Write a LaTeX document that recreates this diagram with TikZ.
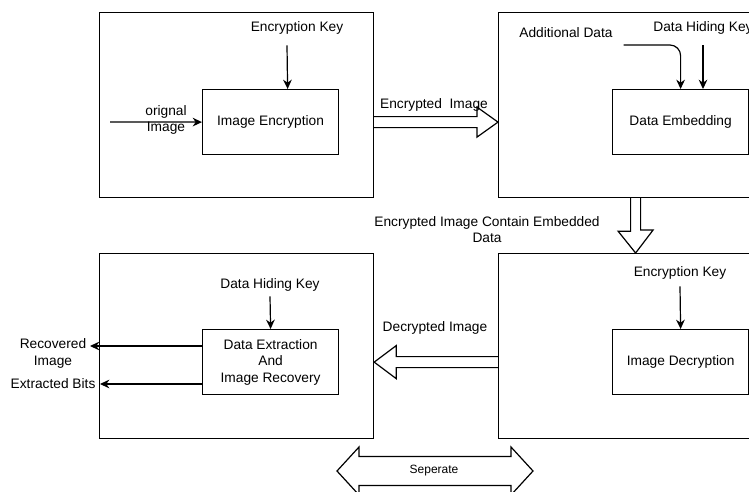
\documentclass[tikz,border=0pt]{standalone}
\usepackage{fontspec}
\setmainfont{Liberation Sans}
\usetikzlibrary{arrows.meta,positioning,calc}

\begin{document}
\begin{tikzpicture}[x=0.75pt,y=-0.75pt,font=\fontsize{10.3}{12.4}\selectfont,line width=0.9pt]
	\tikzset{stage/.style={draw,minimum width=205.5pt,minimum height=138.75pt,inner sep=0pt,anchor=north west},
		block/.style={draw,minimum width=102pt,minimum height=48.75pt,inner sep=0pt,align=center,anchor=north west},
		hollow/.style={draw,line width=0.9pt},
		>={Stealth[length=7pt,width=6.5pt]}}
	\clip (0,0) rectangle (749,492);
	% the four stages
	\node[stage] (encstage) at (99,12) {};
	\node[stage] (embstage) at (498,12) {};
	\node[stage] (decstage) at (498,253) {};
	\node[stage] (extstage) at (99,253) {};
	\node[block] (enc) at (202,89) {Image Encryption};
	\node[block] (emb) at (612,89) {Data Embedding};
	\node[block] (dec) at (612,329) {Image Decryption};
	\node[block] (dext) at (202,329) {Data Extraction\\And\\Image Recovery};
	% labels
	\node (key1) at (297,28) {Encryption Key};
	\node (adddata) at (566,33) {Additional Data};
	\node (hidekey1) at (703,28) {Data Hiding Key};
	\node (key2) at (680,273) {Encryption Key};
	\node (hidekey2) at (270,285) {Data Hiding Key};
	\node[align=center] (orig) at (166,120) {orignal\\Image};
	\node (encimg) at (434,105) {Encrypted\ \ Image};
	\node[align=center] (contain) at (487,229.5) {Encrypted Image Contain Embedded\\Data};
	\node (decimg) at (435,328) {Decrypted Image};
	\node[align=center] (rec) at (53,353.5) {Recovered\\Image};
	\node[anchor=east,inner sep=3pt] (bits) at (100,384) {Extracted Bits};
	\coordinate (src) at (110,122);
	\coordinate (recout) at (90,346);
	% thin arrows
	\draw[->] (src) -- (enc.west);
	\draw[->] ([shift={(-10,6)}]key1.south) -- ([shift={(17,0)}]enc.north);
	\draw[->,rounded corners=8] ([shift={(6,12)}]adddata.east) -| (emb.north);
	\draw[->] ([shift={(0,6)}]hidekey1.south) -- (hidekey1 |- emb.north);
	\draw[->] ([shift={(0,2)}]key2.south) -- (dec.north);
	\draw[->] (hidekey2.south) -- (dext.north);
	\draw[->] (dext.west |- recout) -- (recout);
	\draw[->] (dext.west |- bits) -- (bits.east);
	% block arrows
	\draw[hollow] ($(encstage.east |- enc)+(0,-5.5)$) -- ($(embstage.west |- enc)+(-21,-5.5)$) -- ++(0,-9.5)
		-- (embstage.west |- enc) -- ++(-21,15) -- ++(0,-9.5) -- ($(encstage.east |- enc)+(0,5.5)$);
	\draw[hollow] ($(embstage.south)+(-5,0)$) -- ++(0,33) -- ++(-12.5,0) -- (decstage.north)
		-- ++(17.5,-23) -- ++(-12.5,0) -- ($(embstage.south)+(5,0)$);
	\draw[hollow] ($(decstage.west |- dec)+(0,-5.5)$) -- ($(extstage.east |- dec)+(22,-5.5)$) -- ++(0,-11)
		-- (extstage.east |- dec) -- ++(22,16.5) -- ++(0,-11) -- ($(decstage.west |- dec)+(0,5.5)$);
	\draw[hollow] (337,471) -- ++(22,-24) -- ++(0,9.5) -- ++(152,0) -- ++(0,-9.5) -- ++(22,24)
		-- ++(-22,24) -- ++(0,-9.5) -- ++(-152,0) -- ++(0,9.5) -- cycle;
	\node[font=\fontsize{9}{11}\selectfont] (sep) at (434,471) {Seperate};
\end{tikzpicture}
\end{document}
